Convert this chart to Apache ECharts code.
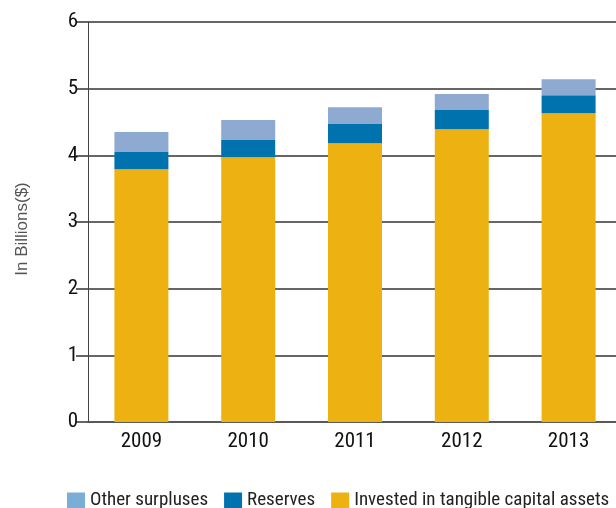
<!DOCTYPE html>
<html><head><meta charset="utf-8">
<script src="https://cdn.jsdelivr.net/npm/echarts@6/dist/echarts.min.js"></script>
<style>html,body{margin:0;padding:0;background:#fff;overflow:hidden}#c{width:632px;height:508px}</style>
</head><body><div id="c"></div>
<script>
var categories = ['2009','2010','2011','2012','2013'];
var invested = [3.79, 3.97, 4.18, 4.39, 4.63];
var reserves = [0.26, 0.26, 0.29, 0.29, 0.27];
var otherSurpluses = [0.30, 0.30, 0.25, 0.24, 0.24];
var yTicks = [0,1,2,3,4,5,6];
var seriesNames = ['Other surpluses','Reserves','Invested in tangible capital assets'];

var font = '"Liberation Sans Narrow", "Roboto Condensed", "Liberation Sans", sans-serif';
var chart = echarts.init(document.getElementById('c'));
chart.setOption({
  animation: false,
  grid: {left: 88, width: 534, top: 22, height: 400, containLabel: false},
  legend: {
    top: 486, left: 62,
    itemWidth: 18, itemHeight: 16, itemGap: 16,
    icon: 'rect',
    textStyle: {fontFamily: font, fontSize: 19, color: '#222'},
    data: [
      {name: seriesNames[0], itemStyle: {color: '#7aaed6'}},
      {name: seriesNames[1], itemStyle: {color: '#0072ae'}},
      {name: seriesNames[2], itemStyle: {color: '#eeb112'}}
    ]
  },
  xAxis: {
    type: 'category', data: categories,
    axisLine: {lineStyle: {color: '#555', width: 1.5}},
    axisTick: {show: false},
    axisLabel: {fontFamily: font, fontSize: 21, color: '#111', margin: 9}
  },
  yAxis: {
    type: 'value', min: 0, max: 6, interval: 1,
    name: 'In Billions($)', nameLocation: 'middle', nameGap: 57,
    nameTextStyle: {fontFamily: '"Liberation Sans", Arial, sans-serif', fontSize: 17, color: '#555', padding: [0, 14, 0, 0]},
    axisLine: {show: true, lineStyle: {color: '#444', width: 1}},
    axisTick: {show: true, length: 12, lineStyle: {color: '#333', width: 1.5}},
    axisLabel: {fontFamily: font, fontSize: 21, color: '#111', margin: 10,
      formatter: function(v){ return yTicks.indexOf(v) >= 0 ? String(v) : ''; }},
    splitLine: {lineStyle: {color: '#333', width: 1.5}}
  },
  series: [
    {name: seriesNames[2], type: 'bar', stack: 's', barWidth: 54, data: invested, itemStyle: {color: '#eeb112'}},
    {name: seriesNames[1], type: 'bar', stack: 's', barWidth: 54, data: reserves, itemStyle: {color: '#0072ae'}},
    {name: seriesNames[0], type: 'bar', stack: 's', barWidth: 54, data: otherSurpluses, itemStyle: {color: '#8eaad0'}}
  ]
});
</script></body></html>
